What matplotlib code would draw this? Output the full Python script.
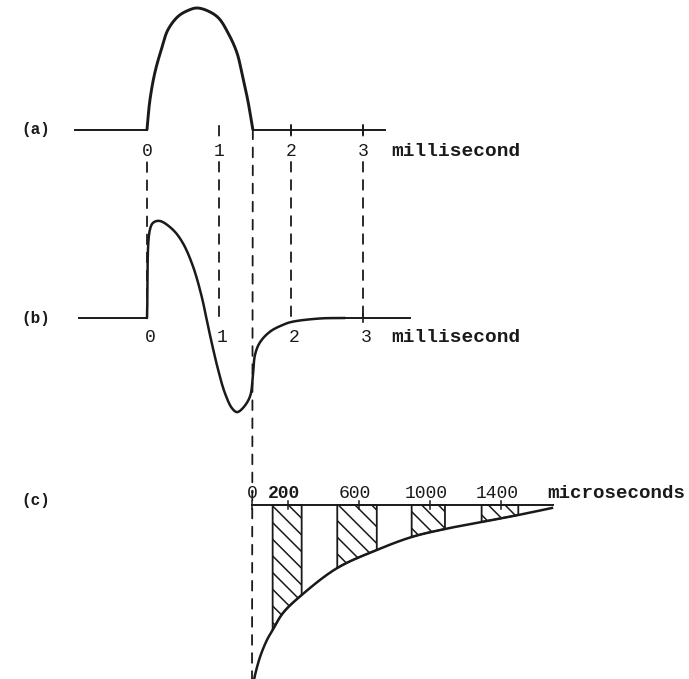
import numpy as np
import matplotlib
matplotlib.use("Agg")
import matplotlib.pyplot as plt
from matplotlib.patches import ConnectionPatch

plt.rcParams["font.family"] = ["Liberation Mono", "DejaVu Sans Mono"]
plt.rcParams["hatch.linewidth"] = 1.1
plt.rcParams["lines.scale_dashes"] = False

# (a) applied pulse, time in ms, normalised amplitude
pulse_t = [0.0, 0.04, 0.11, 0.21, 0.29, 0.43, 0.57, 0.69, 0.83, 0.99, 1.13, 1.25, 1.33, 1.40, 1.47]
pulse_v = [0.0, 0.24, 0.47, 0.68, 0.82, 0.93, 0.98, 1.00, 0.98, 0.92, 0.79, 0.63, 0.43, 0.24, 0.0]
base_a = [-1.0, 3.3]

# (b) response waveform, time in ms, normalised amplitude
resp_t = [0.0, 0.04, 0.09, 0.18, 0.36, 0.50, 0.64, 0.76, 0.83, 0.90, 0.99, 1.08, 1.18,
          1.25, 1.33, 1.43, 1.47, 1.50, 1.57, 1.71, 1.89, 2.01, 2.40, 2.75]
resp_v = [0.0, 0.91, 0.985, 1.00, 0.91, 0.77, 0.53, 0.22, -0.02, -0.26, -0.54, -0.77, -0.93,
          -0.97, -0.93, -0.81, -0.61, -0.38, -0.25, -0.14, -0.07, -0.04, -0.005, 0.0]
base_b = [-0.95, 3.65]

ms_ticks = [0, 1, 2, 3]
ms_labels = ["0", "1", "2", "3"]

# vertical dashed guides (ms) with their extents in panel (a) and panel (b) units
guide_t = [0.0, 1.0, 2.0, 3.0]
guide_top_a = [-0.27, 0.03, 0.03, 0.03]
guide_bot_b = [0.22, -0.05, -0.02, 0.0]
pulse_end_t = 1.47

# (c) decay curve, time in microseconds
decay_us = [10, 17, 45, 84, 116, 174, 279, 479, 701, 897, 1084, 1290, 1496, 1685]
decay_v = [-1.76, -1.70, -1.52, -1.35, -1.25, -1.08, -0.90, -0.63, -0.45, -0.32,
           -0.24, -0.17, -0.10, -0.03]
us_ticks = [200, 600, 1000, 1400]
us_labels = ["200", "600", "1000", "1400"]
strip_lo = [116, 479, 897, 1290]
strip_hi = [279, 701, 1084, 1496]
axis_c = [0, 1690]

fig = plt.figure(figsize=(6.89, 6.79), dpi=100)


def overlay(xlim, ylim):
    ax = fig.add_axes([0, 0, 1, 1])
    ax.set_xlim(*xlim)
    ax.set_ylim(*ylim)
    ax.axis("off")
    ax.patch.set_alpha(0)
    return ax


ax_a = overlay((-147 / 72, 542 / 72), ((129.5 - 679) / 121.5, 129.5 / 121.5))
ax_b = overlay((-147 / 72, 542 / 72), ((318 - 679) / 97, 318 / 97))
ax_c = overlay((-252 / 0.178, 437 / 0.178), ((505 - 679) / 100, 505 / 100))


def smooth(ax, xs, ys, n=24):
    """Centripetal Catmull-Rom through the given points, computed in display space."""
    P = ax.transData.transform(np.column_stack([xs, ys]))
    pts = np.vstack([2 * P[0] - P[1], P, 2 * P[-1] - P[-2]])
    out = []
    for i in range(1, len(pts) - 2):
        p0, p1, p2, p3 = pts[i - 1:i + 3]
        t0 = 0.0
        t1 = t0 + max(np.linalg.norm(p1 - p0), 1e-6) ** 0.5
        t2 = t1 + max(np.linalg.norm(p2 - p1), 1e-6) ** 0.5
        t3 = t2 + max(np.linalg.norm(p3 - p2), 1e-6) ** 0.5
        t = np.linspace(t1, t2, n)[:, None]
        A1 = (t1 - t) / (t1 - t0) * p0 + (t - t0) / (t1 - t0) * p1
        A2 = (t2 - t) / (t2 - t1) * p1 + (t - t1) / (t2 - t1) * p2
        A3 = (t3 - t) / (t3 - t2) * p2 + (t - t2) / (t3 - t2) * p3
        B1 = (t2 - t) / (t2 - t0) * A1 + (t - t0) / (t2 - t0) * A2
        B2 = (t3 - t) / (t3 - t1) * A2 + (t - t1) / (t3 - t1) * A3
        C = (t2 - t) / (t2 - t1) * B1 + (t - t1) / (t2 - t1) * B2
        out.append(C if i == 1 else C[1:])
    D = ax.transData.inverted().transform(np.vstack(out))
    return D[:, 0], D[:, 1]


ink = "#1a1a1a"
dash = dict(color=ink, lw=1.3, linestyle=(0, (7, 6)), zorder=-1)
tick_font = dict(fontsize=13, color=ink, ha="center", va="center",
                 bbox=dict(facecolor="white", edgecolor="none", pad=0.5), zorder=5)
unit_font = dict(fontsize=14, fontweight="bold", color=ink, ha="left", va="center")
panel_font = dict(fontsize=11.5, fontweight="bold", color=ink, ha="left", va="center")

# ---- panel (a)
ax_a.plot([base_a[0], pulse_t[0]], [0, 0], color=ink, lw=1.4)
ax_a.plot([pulse_t[-1], base_a[1]], [0, 0], color=ink, lw=1.4)
sx, sy = smooth(ax_a, pulse_t, pulse_v)
ax_a.plot(sx, sy, color=ink, lw=2.1, solid_capstyle="round")
for t in [2, 3]:
    ax_a.plot([t, t], [-0.035, 0.035], color=ink, lw=1.2)
for t, lab in zip(ms_ticks, ms_labels):
    ax_a.text(t, -0.185, lab, **tick_font)
ax_a.text(3.39, -0.185, "millisecond", **unit_font)
ax_a.text(-1.75, 0.0, "(a)", **panel_font)

# ---- panel (b)
ax_b.plot([base_b[0], resp_t[0]], [0, 0], color=ink, lw=1.4)
ax_b.plot([resp_t[-1], base_b[1]], [0, 0], color=ink, lw=1.4)
sx, sy = smooth(ax_b, resp_t, resp_v)
ax_b.plot(sx, sy, color=ink, lw=1.8, solid_capstyle="round")
ax_b.plot([3, 3], [-0.04, 0.04], color=ink, lw=1.2)
for t, lab in zip(ms_ticks, ms_labels):
    ax_b.text(t + 0.04, -0.206, lab, **tick_font)
ax_b.text(3.39, -0.206, "millisecond", **unit_font)
ax_b.text(-1.75, 0.0, "(b)", **panel_font)

# dashed guides linking (a) and (b)
for t, top, bot in zip(guide_t, guide_top_a, guide_bot_b):
    con = ConnectionPatch(xyA=(t, top), coordsA=ax_a.transData,
                          xyB=(t, bot), coordsB=ax_b.transData, **dash)
    fig.add_artist(con)
# end of the pulse carried down to the origin of (c)
con = ConnectionPatch(xyA=(pulse_end_t, 0.0), coordsA=ax_a.transData,
                      xyB=(0, ax_c.get_ylim()[0]), coordsB=ax_c.transData, **dash)
fig.add_artist(con)

# ---- panel (c)
ax_c.plot(axis_c, [0, 0], color=ink, lw=1.4)
for u in [0] + us_ticks:
    ax_c.plot([u, u], [-0.04, 0.04], color=ink, lw=1.1)
cx, cy = smooth(ax_c, decay_us, decay_v)
ax_c.plot(cx, cy, color=ink, lw=1.8)
for lo, hi in zip(strip_lo, strip_hi):
    xs = np.linspace(lo, hi, 60)
    ys = np.interp(xs, cx, cy)
    ax_c.fill_between(xs, ys, 0, facecolor="none", edgecolor=ink, hatch="\\\\", lw=1.3)
ax_c.text(0, 0.12, "0", fontsize=13, color=ink, ha="center", va="center")
for u, lab in zip(us_ticks, us_labels):
    w = "bold" if u == 200 else "normal"
    ax_c.text(u - 20, 0.12, lab, fontsize=13, color=ink, ha="center", va="center", fontweight=w)
ax_c.text(1657, 0.12, "microseconds", fontsize=13.8, fontweight="bold", color=ink,
          ha="left", va="center")
ax_c.text(-1298, 0.05, "(c)", **panel_font)

fig.savefig("out.png", dpi=100, facecolor="white")
